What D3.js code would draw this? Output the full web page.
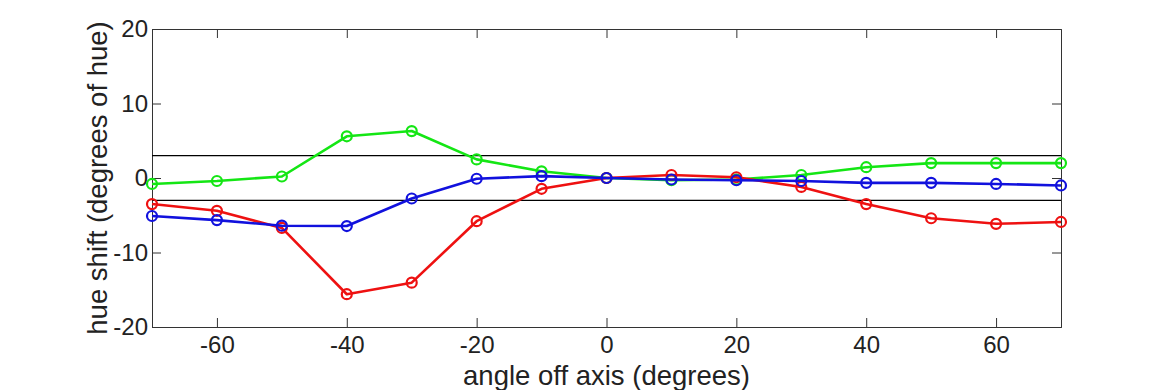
<!DOCTYPE html>
<html>
<head>
<meta charset="utf-8">
<script src="https://cdn.jsdelivr.net/npm/d3@7"></script>
<style>
  body { margin: 0; background: #fff; }
  svg text { font-family: "Liberation Sans", Arial, Helvetica, sans-serif; fill: #222; }
</style>
</head>
<body>
<div id="chart"></div>
<script>
// angles (degrees off axis)
var angles = [-70, -60, -50, -40, -30, -20, -10, 0, 10, 20, 30, 40, 50, 60, 70];
// hue shift per channel
var greenShift = [-0.8, -0.4, 0.2, 5.6, 6.3, 2.5, 0.9, 0, -0.3, -0.2, 0.4, 1.45, 2.0, 2.0, 2.0];
var redShift = [-3.5, -4.4, -6.7, -15.6, -14.05, -5.8, -1.45, 0, 0.4, 0.1, -1.2, -3.5, -5.4, -6.15, -5.9];
var blueShift = [-5.1, -5.65, -6.4, -6.45, -2.75, -0.1, 0.25, 0, -0.2, -0.3, -0.4, -0.65, -0.65, -0.8, -1.0];
var thresholds = [3, -3];
var xTicks = [-60, -40, -20, 0, 20, 40, 60];
var yTicks = [-20, -10, 0, 10, 20];

var width = 1170, height = 390;
var margin = {top: 29, right: 109, bottom: 63, left: 152};
var plotW = width - margin.left - margin.right;
var plotH = height - margin.top - margin.bottom;

var svg = d3.select('#chart').append('svg')
  .attr('width', width).attr('height', height);

var g = svg.append('g').attr('transform', 'translate(' + margin.left + ',' + margin.top + ')');

var x = d3.scaleLinear().domain([-70, 70]).range([0, plotW]);
var y = d3.scaleLinear().domain([-20, 20]).range([plotH, 0]);

var axisColor = '#333';
var tickLen = 9;

// axes, ticks inside, mirrored on top/right
var xAxisB = g.append('g').attr('transform', 'translate(0,' + plotH + ')')
  .call(d3.axisBottom(x).tickValues(xTicks).tickSize(-tickLen).tickPadding(9).tickFormat(d3.format('d')));
var xAxisT = g.append('g')
  .call(d3.axisTop(x).tickValues(xTicks).tickSize(-tickLen).tickFormat(''));
var yAxisL = g.append('g')
  .call(d3.axisLeft(y).tickValues(yTicks).tickSize(-tickLen).tickPadding(4).tickFormat(d3.format('d')));
var yAxisR = g.append('g').attr('transform', 'translate(' + plotW + ',0)')
  .call(d3.axisRight(y).tickValues(yTicks).tickSize(-tickLen).tickFormat(''));

[xAxisB, xAxisT, yAxisL, yAxisR].forEach(function (a) {
  a.select('.domain').attr('stroke', axisColor).attr('stroke-width', 1);
  a.selectAll('.tick line').attr('stroke', axisColor).attr('stroke-width', 1);
  a.selectAll('.tick text').attr('font-size', 24).attr('fill', '#222')
    .style('font-family', '"Liberation Sans", Arial, sans-serif');
});
// minus signs as plain hyphen like the original
xAxisB.selectAll('.tick text').text(function (d) { return String(d); });
yAxisL.selectAll('.tick text').text(function (d) { return String(d); });

// threshold lines
g.selectAll('.thr').data(thresholds).enter().append('line')
  .attr('class', 'thr')
  .attr('x1', 0).attr('x2', plotW)
  .attr('y1', function (d) { return y(d); })
  .attr('y2', function (d) { return y(d); })
  .attr('stroke', '#000').attr('stroke-width', 1.2);

var series = [
  {name: 'green', color: '#14e614', values: greenShift},
  {name: 'red', color: '#ee1111', values: redShift},
  {name: 'blue', color: '#1111dd', values: blueShift}
];

var line = d3.line()
  .x(function (d) { return x(d[0]); })
  .y(function (d) { return y(d[1]); });

series.forEach(function (s) {
  var pts = angles.map(function (a, i) { return [a, s.values[i]]; });
  var sg = g.append('g');
  sg.append('path').datum(pts)
    .attr('d', line)
    .attr('fill', 'none')
    .attr('stroke', s.color)
    .attr('stroke-width', 2.6)
    .attr('stroke-linejoin', 'round');
  sg.selectAll('circle').data(pts).enter().append('circle')
    .attr('cx', function (d) { return x(d[0]); })
    .attr('cy', function (d) { return y(d[1]); })
    .attr('r', 5)
    .attr('fill', 'none')
    .attr('stroke', s.color)
    .attr('stroke-width', 2.2);
});

// axis labels
svg.append('text')
  .attr('x', margin.left + x(0))
  .attr('y', 385)
  .attr('text-anchor', 'middle')
  .attr('font-size', 27.5)
  .text('angle off axis (degrees)');

svg.append('text')
  .attr('transform', 'translate(107,' + (margin.top + plotH / 2) + ') rotate(-90)')
  .attr('text-anchor', 'middle')
  .attr('font-size', 27.5)
  .text('hue shift (degrees of hue)');
</script>
</body>
</html>
